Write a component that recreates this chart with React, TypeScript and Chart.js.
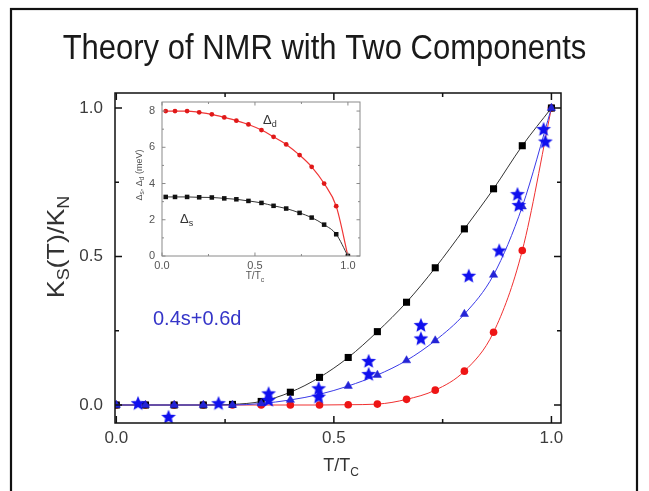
import React, { useEffect, useRef } from 'react';
import { Chart, registerables } from 'chart.js';
Chart.register(...registerables);

// ---------- data ----------
const TITLE = 'Theory of NMR with Two Components';
const MIX_LABEL = '0.4s+0.6d';

// main plot: T/Tc grid of the theory curves
const tTheory = [0, 0.067, 0.133, 0.2, 0.267, 0.333, 0.4, 0.467, 0.533, 0.6, 0.667, 0.733, 0.8, 0.867, 0.933, 1.0];
const kS = [0, 0, 0, 0, 0.002, 0.012, 0.043, 0.093, 0.16, 0.247, 0.346, 0.462, 0.593, 0.728, 0.873, 1.0];
const kD = [0, 0, 0, 0, 0, 0, 0, 0, 0.001, 0.003, 0.019, 0.05, 0.114, 0.245, 0.52, 1.0];
const kMix = [0, 0, 0, 0, 0, 0.005, 0.017, 0.036, 0.064, 0.101, 0.15, 0.217, 0.306, 0.438, 0.668, 1.0];

// experimental points (stars)
const tExp = [0.05, 0.12, 0.235, 0.35, 0.35, 0.465, 0.465, 0.58, 0.58, 0.7, 0.7, 0.81, 0.88, 0.922, 0.925, 0.982, 0.986];
const kExp = [0.006, -0.04, 0.006, 0.039, 0.017, 0.056, 0.028, 0.148, 0.104, 0.269, 0.224, 0.435, 0.52, 0.71, 0.673, 0.929, 0.887];

const mainMajor = [0, 0.5, 1.0];
const mainMinor = [0.25, 0.75];

// inset: gaps vs T/Tc
const tInset = [0.02, 0.07, 0.135, 0.2, 0.268, 0.335, 0.4, 0.465, 0.535, 0.6, 0.668, 0.74, 0.805, 0.872, 0.937, 1.0];
const gapD = [8.0, 8.0, 8.0, 7.93, 7.82, 7.65, 7.47, 7.26, 6.95, 6.58, 6.16, 5.57, 4.92, 4.0, 2.75, 0];
const gapS = [3.26, 3.26, 3.26, 3.24, 3.23, 3.18, 3.13, 3.04, 2.93, 2.77, 2.62, 2.38, 2.12, 1.73, 1.2, 0];

const insetXMajor = [0, 0.5, 1.0];
const insetXMinor = [0.25, 0.75];
const insetYMajor = [0, 2, 4, 6, 8];
const insetYMinor = [1, 3, 5, 7];

// ---------- helpers ----------
const FAMILY = '"Liberation Sans", Arial, sans-serif';

type Part = { t: string; sub?: boolean };

function drawRich(ctx: CanvasRenderingContext2D, parts: Part[], x: number, y: number, size: number, subSize: number, subDy: number, color: string, align: 'center' | 'left' = 'center') {
  let total = 0;
  const widths = parts.map((p) => {
    ctx.font = `${p.sub ? subSize : size}px ${FAMILY}`;
    const w = ctx.measureText(p.t).width;
    total += w;
    return w;
  });
  let cx = align === 'center' ? x - total / 2 : x;
  ctx.fillStyle = color;
  ctx.textBaseline = 'alphabetic';
  ctx.textAlign = 'left';
  parts.forEach((p, i) => {
    ctx.font = `${p.sub ? subSize : size}px ${FAMILY}`;
    ctx.fillText(p.t, cx, y + (p.sub ? subDy : 0));
    cx += widths[i];
  });
}

function drawFrameTicks(chart: any, color: string, lw: number, majLen: number, minLen: number, xMaj: number[], xMin: number[], yMaj: number[], yMin: number[]) {
  const { ctx, chartArea: a, scales } = chart;
  ctx.save();
  ctx.strokeStyle = color;
  ctx.lineWidth = lw;
  ctx.strokeRect(a.left, a.top, a.right - a.left, a.bottom - a.top);
  ctx.beginPath();
  const xt = (v: number, len: number) => {
    const p = scales.x.getPixelForValue(v);
    ctx.moveTo(p, a.bottom); ctx.lineTo(p, a.bottom - len);
    ctx.moveTo(p, a.top); ctx.lineTo(p, a.top + len);
  };
  const yt = (v: number, len: number) => {
    const p = scales.y.getPixelForValue(v);
    ctx.moveTo(a.left, p); ctx.lineTo(a.left + len, p);
    ctx.moveTo(a.right, p); ctx.lineTo(a.right - len, p);
  };
  xMaj.forEach((v) => xt(v, majLen));
  xMin.forEach((v) => xt(v, minLen));
  yMaj.forEach((v) => yt(v, majLen));
  yMin.forEach((v) => yt(v, minLen));
  ctx.stroke();
  ctx.restore();
}

function makeStar(size: number, color: string) {
  const c = document.createElement('canvas');
  c.width = size;
  c.height = size;
  const g = c.getContext('2d')!;
  const cx = size / 2, cy = size / 2 + 0.5;
  const R = size / 2 - 0.3, r = R * 0.45;
  g.beginPath();
  for (let i = 0; i < 10; i++) {
    const ang = -Math.PI / 2 + (i * Math.PI) / 5;
    const rad = i % 2 === 0 ? R : r;
    g.lineTo(cx + rad * Math.cos(ang), cy + rad * Math.sin(ang));
  }
  g.closePath();
  g.fillStyle = color;
  g.fill();
  return c;
}

const pts = (xs: number[], ys: number[]) => xs.map((x, i) => ({ x, y: ys[i] }));

function tickList(major: number[], minor: number[]) {
  return [...major, ...minor].sort((a, b) => a - b).map((v) => ({ value: v }));
}

const GRID_OFF = { display: false, drawTicks: false, tickLength: 0 };

export default function App() {
  const mainRef = useRef<HTMLCanvasElement>(null);
  const insetRef = useRef<HTMLCanvasElement>(null);

  useEffect(() => {
    const star = makeStar(16, '#1010ee');
    const BLUE = '#2424d6';

    const main = new Chart(mainRef.current!, {
      type: 'line',
      data: {
        datasets: [
          {
            data: pts(tExp, kExp),
            showLine: false,
            pointStyle: star as any,
            pointRadius: 7,
            backgroundColor: '#1010ee',
            borderColor: '#1010ee',
          },
          {
            data: pts(tTheory, kMix),
            borderColor: '#3a3ae8',
            borderWidth: 1,
            pointStyle: 'triangle',
            pointRadius: 4.8,
            pointBackgroundColor: BLUE,
            pointBorderColor: BLUE,
            pointBorderWidth: 0.5,
            tension: 0.4,
            cubicInterpolationMode: 'monotone',
          },
          {
            data: pts(tTheory, kS),
            borderColor: '#333333',
            borderWidth: 1,
            pointStyle: 'rect',
            pointRadius: 5,
            pointBackgroundColor: '#000000',
            pointBorderColor: '#000000',
            pointBorderWidth: 0,
            tension: 0.4,
            cubicInterpolationMode: 'monotone',
          },
          {
            data: pts(tTheory, kD),
            borderColor: '#f03030',
            borderWidth: 1,
            pointStyle: 'circle',
            pointRadius: 3.8,
            pointBackgroundColor: '#ee1515',
            pointBorderColor: '#ee1515',
            pointBorderWidth: 0,
            tension: 0.4,
            cubicInterpolationMode: 'monotone',
          },
        ],
      },
      options: {
        responsive: false,
        animation: false,
        devicePixelRatio: 1,
        events: [],
        layout: { padding: { top: 93, right: 88, left: 0, bottom: 0 } },
        plugins: { legend: { display: false }, title: { display: false }, tooltip: { enabled: false } },
        scales: {
          x: {
            type: 'linear',
            min: -0.003,
            max: 1.022,
            grid: GRID_OFF,
            border: { display: false },
            afterBuildTicks: (s: any) => { s.ticks = tickList(mainMajor, mainMinor); },
            afterFit: (s: any) => { s.height = 68; },
            ticks: {
              autoSkip: false,
              maxRotation: 0,
              padding: 5,
              color: '#3c3c3c',
              font: { family: FAMILY, size: 17 },
              callback: (v: any) => (mainMajor.includes(Number(v)) ? Number(v).toFixed(1) : ''),
            },
          },
          y: {
            type: 'linear',
            min: -0.0606,
            max: 1.0505,
            grid: GRID_OFF,
            border: { display: false },
            afterBuildTicks: (s: any) => { s.ticks = tickList(mainMajor, mainMinor); },
            afterFit: (s: any) => { s.width = 115; },
            ticks: {
              autoSkip: false,
              padding: 12,
              color: '#3c3c3c',
              font: { family: FAMILY, size: 17 },
              callback: (v: any) => (mainMajor.includes(Number(v)) ? Number(v).toFixed(1) : ''),
            },
          },
        },
      },
      plugins: [
        {
          id: 'mainDeco',
          afterDraw(chart: any) {
            const ctx = chart.ctx as CanvasRenderingContext2D;
            drawFrameTicks(chart, '#111', 1.5, 7, 4, mainMajor, mainMinor, mainMajor, mainMinor);
            // outer slide frame
            ctx.save();
            ctx.strokeStyle = '#111';
            ctx.lineWidth = 2.2;
            ctx.strokeRect(11, 9, 626, 500);
            ctx.restore();
            // title (slightly stretched vertically as in the reference)
            ctx.save();
            ctx.translate(324.5, 59);
            ctx.scale(1, 1.12);
            ctx.font = `31px ${FAMILY}`;
            ctx.fillStyle = '#1a1a1a';
            ctx.textAlign = 'center';
            ctx.textBaseline = 'alphabetic';
            ctx.fillText(TITLE, 0, 0);
            ctx.restore();
            // x title
            drawRich(ctx, [{ t: 'T/T' }, { t: 'C', sub: true }], 341, 471, 18, 12, 5, '#333');
            // y title
            ctx.save();
            ctx.translate(64, 247);
            ctx.rotate(-Math.PI / 2);
            ctx.scale(1.12, 1);
            drawRich(ctx, [{ t: 'K' }, { t: 'S', sub: true }, { t: '(T)/K' }, { t: 'N', sub: true }], 0, 0, 24, 16, 5, '#333');
            ctx.restore();
            // mixing label
            drawRich(ctx, [{ t: MIX_LABEL }], 153, 325, 20, 20, 0, '#3535c8', 'left');
          },
        },
      ],
    } as any);

    const inset = new Chart(insetRef.current!, {
      type: 'line',
      data: {
        datasets: [
          {
            data: pts(tInset, gapS),
            borderColor: '#333',
            borderWidth: 1,
            pointStyle: 'rect',
            pointRadius: 3.2,
            pointBackgroundColor: '#111',
            pointBorderWidth: 0,
            tension: 0.4,
            cubicInterpolationMode: 'monotone',
          },
          {
            data: pts(tInset, gapD),
            borderColor: '#f03535',
            borderWidth: 1.2,
            pointStyle: 'circle',
            pointRadius: 2.4,
            pointBackgroundColor: '#e01818',
            pointBorderWidth: 0,
            tension: 0.4,
            cubicInterpolationMode: 'monotone',
          },
        ],
      },
      options: {
        responsive: false,
        animation: false,
        devicePixelRatio: 1,
        events: [],
        layout: { padding: { top: 14, right: 10, left: 0, bottom: 0 } },
        plugins: { legend: { display: false }, title: { display: false }, tooltip: { enabled: false } },
        scales: {
          x: {
            type: 'linear',
            min: 0,
            max: 1.065,
            grid: GRID_OFF,
            border: { display: false },
            afterBuildTicks: (s: any) => { s.ticks = tickList(insetXMajor, insetXMinor); },
            afterFit: (s: any) => { s.height = 37; },
            ticks: {
              autoSkip: false,
              maxRotation: 0,
              padding: 3,
              color: '#555',
              font: { family: FAMILY, size: 11 },
              callback: (v: any) => (insetXMajor.includes(Number(v)) ? Number(v).toFixed(1) : ''),
            },
          },
          y: {
            type: 'linear',
            min: 0,
            max: 8.5,
            grid: GRID_OFF,
            border: { display: false },
            afterBuildTicks: (s: any) => { s.ticks = tickList(insetYMajor, insetYMinor); },
            afterFit: (s: any) => { s.width = 42; },
            ticks: {
              autoSkip: false,
              padding: 7,
              color: '#555',
              font: { family: FAMILY, size: 11 },
              callback: (v: any) => (insetYMajor.includes(Number(v)) ? String(v) : ''),
            },
          },
        },
      },
      plugins: [
        {
          id: 'insetDeco',
          afterDraw(chart: any) {
            const ctx = chart.ctx as CanvasRenderingContext2D;
            drawFrameTicks(chart, '#8a8a8a', 1, 3.5, 2, insetXMajor, insetXMinor, insetYMajor, insetYMinor);
            drawRich(ctx, [{ t: 'T/T' }, { t: 'c', sub: true }], 135, 191, 10, 7, 3, '#555');
            ctx.save();
            ctx.translate(22, 87);
            ctx.rotate(-Math.PI / 2);
            drawRich(ctx, [{ t: 'Δ' }, { t: 's', sub: true }, { t: ', Δ' }, { t: 'd', sub: true }, { t: ' (meV)' }], 0, 0, 9, 6.5, 2, '#555');
            ctx.restore();
            drawRich(ctx, [{ t: 'Δ' }, { t: 'd', sub: true }], 143, 36, 13, 9, 3, '#333', 'left');
            drawRich(ctx, [{ t: 'Δ' }, { t: 's', sub: true }], 60, 135, 13, 9, 3, '#333', 'left');
          },
        },
      ],
    } as any);

    return () => {
      main.destroy();
      inset.destroy();
    };
  }, []);

  return (
    <div style={{ position: 'fixed', left: 0, top: 0, width: 649, height: 491, background: '#fff', overflow: 'hidden' }}>
      <canvas ref={mainRef} width={649} height={491} style={{ position: 'absolute', left: 0, top: 0, width: 649, height: 491 }} />
      <canvas ref={insetRef} width={250} height={205} style={{ position: 'absolute', left: 120, top: 88, width: 250, height: 205 }} />
    </div>
  );
}
